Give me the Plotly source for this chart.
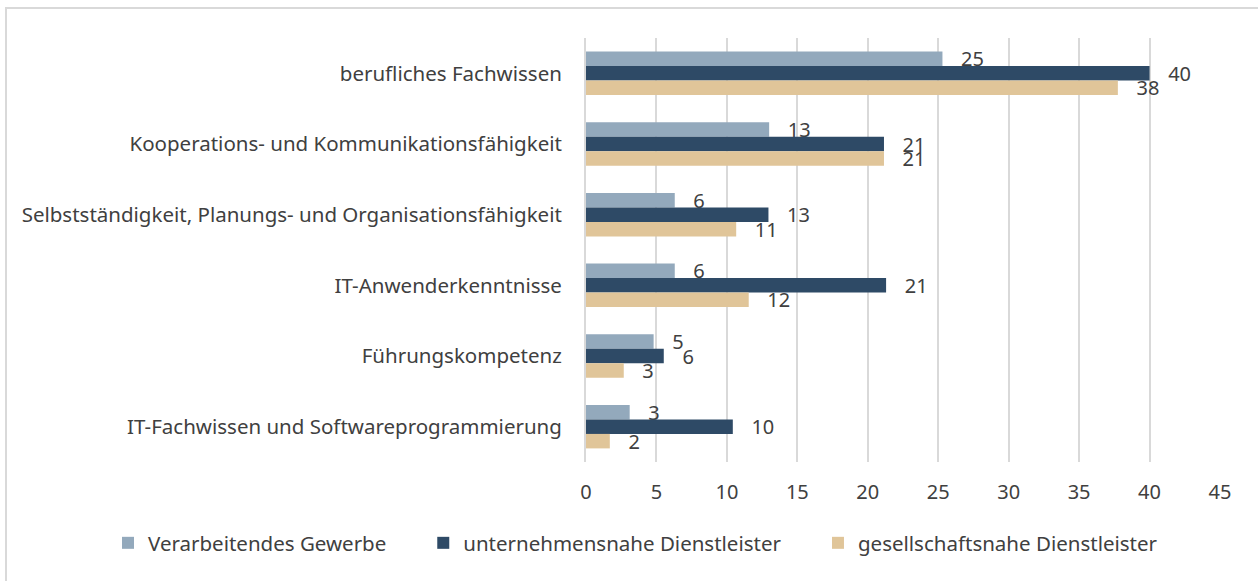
import plotly.graph_objects as go

categories = [
    "berufliches Fachwissen",
    "Kooperations- und Kommunikationsfähigkeit",
    "Selbstständigkeit, Planungs- und Organisationsfähigkeit",
    "IT-Anwenderkenntnisse",
    "Führungskompetenz",
    "IT-Fachwissen und Softwareprogrammierung",
]
verarbeitendes_gewerbe = [25.3, 13.0, 6.3, 6.3, 4.8, 3.1]
unternehmensnahe_dl = [40.0, 21.15, 12.95, 21.3, 5.52, 10.42]
gesellschaftsnahe_dl = [37.75, 21.15, 10.66, 11.55, 2.68, 1.69]

series_names = ["Verarbeitendes Gewerbe", "unternehmensnahe Dienstleister", "gesellschaftsnahe Dienstleister"]
series_values = [verarbeitendes_gewerbe, unternehmensnahe_dl, gesellschaftsnahe_dl]
colors = ["#93A9BC", "#2E4A66", "#E0C599"]
x_ticks = [0, 5, 10, 15, 20, 25, 30, 35, 40, 45]

FONT = "Noto Sans"
TXT = "#404040"
FS = 20
FS_CAT = 20.5

NBSP = "\u00a0"
fig = go.Figure()
for i, (name, vals, col) in enumerate(zip(series_names, series_values, colors)):
    legend_name = name + (NBSP * 6 if i < len(series_names) - 1 else "")
    fig.add_trace(go.Bar(
        y=categories, x=vals, name=legend_name, orientation="h",
        marker=dict(color=col, line=dict(width=0)),
        text=vals, texttemplate=NBSP * 3 + "%{x:.0f}", textposition="outside",
        constraintext="none",
        textfont=dict(family=FONT, size=FS, color=TXT),
        cliponaxis=False,
    ))

W, H = 1258, 581
l, r, t, b = 586, 38, 38, 119
pw, ph = W - l - r, H - t - b

fig.update_layout(
    width=W, height=H,
    margin=dict(l=l, r=r, t=t, b=b, autoexpand=False),
    barmode="group", bargap=0.385, bargroupgap=0,
    paper_bgcolor="white", plot_bgcolor="white",
    font=dict(family=FONT, size=FS, color=TXT),
    legend=dict(
        orientation="h", x=(108 - l) / pw, xanchor="left",
        y=(H - b - 543) / ph, yanchor="middle",
        font=dict(family=FONT, size=FS_CAT, color=TXT),
        traceorder="normal", itemwidth=30,
    ),
    xaxis=dict(
        range=[0, 45], tickvals=x_ticks, showgrid=True,
        gridcolor="#D9D9D9", gridwidth=2, zeroline=False,
        showline=False, ticks="outside", ticklen=12, tickcolor="rgba(0,0,0,0)",
        tickfont=dict(family=FONT, size=FS, color=TXT),
    ),
    yaxis=dict(
        autorange="reversed", showgrid=False, showline=True,
        linecolor="#D9D9D9", linewidth=2, ticks="outside", ticklen=18,
        tickcolor="rgba(0,0,0,0)",
        tickfont=dict(family=FONT, size=FS_CAT, color=TXT),
    ),
    shapes=[dict(
        type="rect", xref="paper", yref="paper",
        x0=(6 - l) / pw, x1=(1265 - l) / pw,
        y0=(H - b - 590) / ph, y1=(H - b - 8) / ph,
        line=dict(color="#D9D9D9", width=2), fillcolor="rgba(0,0,0,0)",
        layer="below",
    )],
)

fig.write_html("out.html", config={"displayModeBar": False},
               post_script="document.body.style.margin='0';document.body.style.padding='0';")
